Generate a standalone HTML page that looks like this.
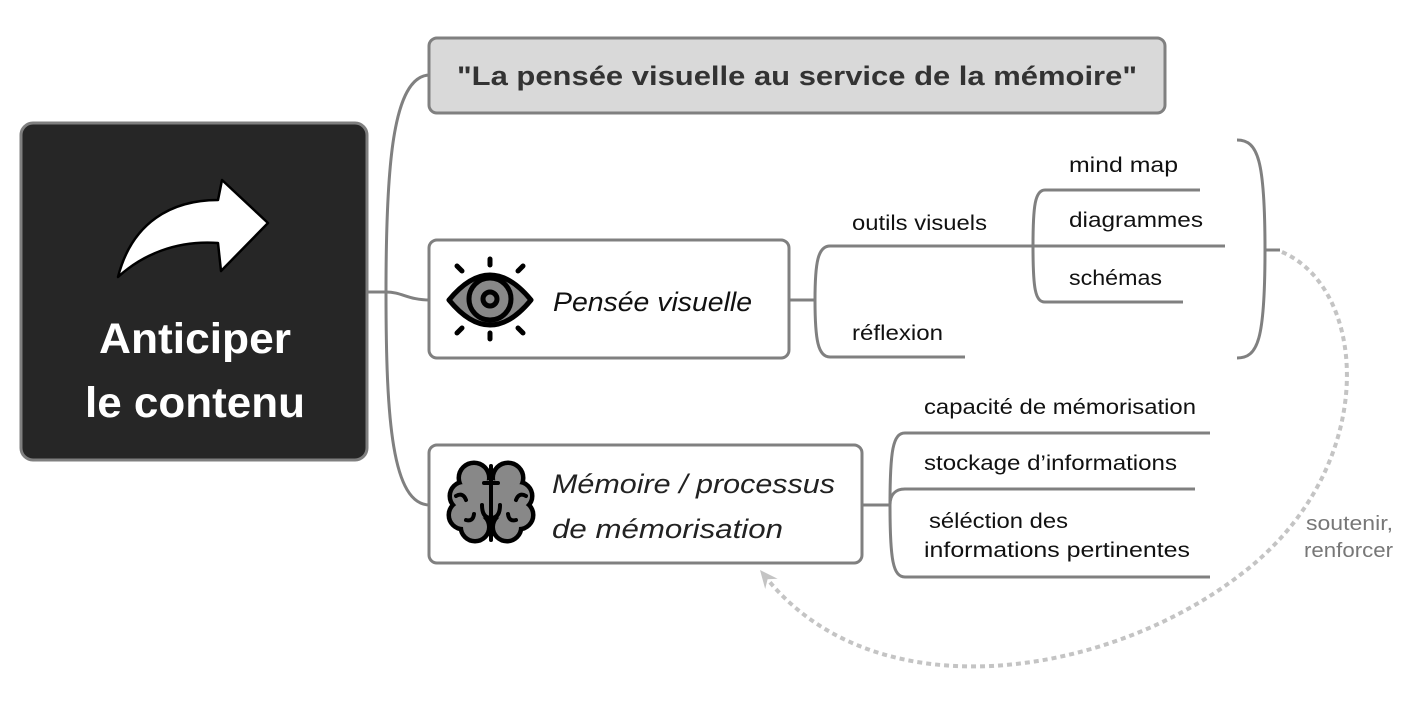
<!DOCTYPE html>
<html><head><meta charset="utf-8"><style>
html,body{margin:0;padding:0;background:#fff;}
svg{display:block;}
text{font-family:"Liberation Sans",sans-serif;}
</style></head><body>
<svg width="1416" height="706" viewBox="0 0 1416 706" xmlns="http://www.w3.org/2000/svg">
<rect width="1416" height="706" fill="#fff"/>
<!-- connectors -->
<g fill="none" stroke="#808080" stroke-width="3" stroke-linecap="butt">
  <path d="M367,292 L386,292"/>
  <path d="M386,292 C386,170 392,75 430,75"/>
  <path d="M386,292 C386,420 392,505 430,505"/>
  <path d="M386,292 C402,292 408,300 430,300"/>
  <path d="M789,300 L815,300"/>
  <path d="M830,246 C818,246 815,262 815,300 C815,340 818,357 830,357"/>
  <path d="M830,246 L1225,246"/>
  <path d="M830,357 L965,357"/>
  <path d="M1045,190 C1035,190 1033,206 1033,246 C1033,288 1035,302 1045,302"/>
  <path d="M1045,190 L1200,190"/>
  <path d="M1045,302 L1183,302"/>
  <path d="M1237,140 C1258,140 1265,160 1265,250 C1265,340 1258,358 1237,358"/>
  <path d="M1265,250 L1280,250"/>
  <path d="M862,505 L890,505"/>
  <path d="M905,433 C893,433 890,450 890,505 C890,560 893,577 905,577"/>
  <path d="M890,505 C890,495 895,489 905,489 L1195,489"/>
  <path d="M905,433 L1210,433"/>
  <path d="M905,577 L1210,577"/>
</g>
<!-- dashed relationship -->
<path d="M1282,252 C1370,290 1380,470 1240,575 C1110,675 880,715 768,580" fill="none" stroke="#c4c4c4" stroke-width="4" stroke-dasharray="5 4"/>
<polygon points="760,570 777.6,578.8 767.6,579.3 765.2,589" fill="#c4c4c4"/>

<!-- central box -->
<rect x="21" y="123" width="346" height="337" rx="12" ry="12" fill="#262626" stroke="#7f7f7f" stroke-width="3"/>
<path d="M118,277 C132,222 172,200 218,200 L222,180 L268,223 L221,271 L218,243 C176,240 142,255 118,277 Z" fill="#fff" stroke="#000" stroke-width="2.5" stroke-linejoin="round"/>
<text x="195" y="353" fill="#fff" font-size="43" font-weight="bold" text-anchor="middle" textLength="192" lengthAdjust="spacingAndGlyphs">Anticiper</text>
<text x="195" y="417" fill="#fff" font-size="43" font-weight="bold" text-anchor="middle" textLength="220" lengthAdjust="spacingAndGlyphs">le contenu</text>

<!-- title box -->
<rect x="429" y="38" width="736" height="75" rx="8" ry="8" fill="#d9d9d9" stroke="#808080" stroke-width="3"/>
<text x="457" y="85" fill="#333" font-size="27" font-weight="bold" textLength="680" lengthAdjust="spacingAndGlyphs">"La pensée visuelle au service de la mémoire"</text>

<!-- pensee visuelle box -->
<rect x="429" y="240" width="360" height="118" rx="8" ry="8" fill="#fff" stroke="#808080" stroke-width="3"/>
<g stroke="#000" stroke-width="5" stroke-linecap="round" fill="none">
  <line x1="490" y1="259" x2="490" y2="265"/>
  <line x1="490" y1="333" x2="490" y2="339"/>
  <line x1="457" y1="266" x2="462" y2="271"/>
  <line x1="523" y1="266" x2="518" y2="271"/>
  <line x1="457" y1="333" x2="462" y2="328"/>
  <line x1="523" y1="333" x2="518" y2="328"/>
</g>
<path d="M449,300 Q490,250 531,300 Q490,350 449,300 Z" fill="#888" stroke="#000" stroke-width="5" stroke-linejoin="round"/>
<circle cx="490" cy="299" r="21" fill="#888" stroke="#000" stroke-width="5"/>
<circle cx="490" cy="299" r="7" fill="#888" stroke="#000" stroke-width="5"/>
<text x="553" y="311" fill="#111" font-size="27" font-style="italic" textLength="199" lengthAdjust="spacingAndGlyphs">Pensée visuelle</text>

<!-- memoire box -->
<rect x="429" y="445" width="433" height="118" rx="8" ry="8" fill="#fff" stroke="#808080" stroke-width="3"/>
<g stroke="#000" stroke-width="9">
  <circle cx="474" cy="478" r="13"/><circle cx="464" cy="496" r="12"/><circle cx="463" cy="515" r="12"/><circle cx="475" cy="527" r="12"/><circle cx="480" cy="503" r="15"/>
  <circle cx="508" cy="478" r="13"/><circle cx="518" cy="496" r="12"/><circle cx="519" cy="515" r="12"/><circle cx="507" cy="527" r="12"/><circle cx="502" cy="503" r="15"/>
  <circle cx="491" cy="498" r="18"/>
</g>
<g fill="#888">
  <circle cx="474" cy="478" r="13"/><circle cx="464" cy="496" r="12"/><circle cx="463" cy="515" r="12"/><circle cx="475" cy="527" r="12"/><circle cx="480" cy="503" r="15"/>
  <circle cx="508" cy="478" r="13"/><circle cx="518" cy="496" r="12"/><circle cx="519" cy="515" r="12"/><circle cx="507" cy="527" r="12"/><circle cx="502" cy="503" r="15"/>
  <circle cx="491" cy="498" r="18"/>
</g>
<g stroke="#000" stroke-width="4" fill="none" stroke-linecap="round">
  <line x1="491" y1="466" x2="491" y2="540"/>
  <line x1="484" y1="483" x2="498" y2="483"/>
  <path d="M482,505 Q482,518 491,518 Q500,518 500,505"/>
  <path d="M456,496 Q463,492 466,500"/>
  <path d="M526,496 Q519,492 516,500"/>
  <path d="M466,520 Q473,522 474,514"/>
  <path d="M516,520 Q509,522 508,514"/>
</g>
<text x="552" y="493" fill="#222" font-size="27" font-style="italic" textLength="283" lengthAdjust="spacingAndGlyphs">Mémoire / processus</text>
<text x="552" y="538" fill="#222" font-size="27" font-style="italic" textLength="231" lengthAdjust="spacingAndGlyphs">de mémorisation</text>

<!-- subtopics -->
<g fill="#111" font-size="21">
  <text x="852" y="230" textLength="135" lengthAdjust="spacingAndGlyphs">outils visuels</text>
  <text x="852" y="340" textLength="91" lengthAdjust="spacingAndGlyphs">réflexion</text>
  <text x="1069" y="172" textLength="109" lengthAdjust="spacingAndGlyphs">mind map</text>
  <text x="1069" y="227" textLength="134" lengthAdjust="spacingAndGlyphs">diagrammes</text>
  <text x="1069" y="285" textLength="93" lengthAdjust="spacingAndGlyphs">schémas</text>
  <text x="924" y="414" textLength="272" lengthAdjust="spacingAndGlyphs">capacité de mémorisation</text>
  <text x="924" y="470" textLength="253" lengthAdjust="spacingAndGlyphs">stockage d’informations</text>
  <text x="929" y="528" textLength="139" lengthAdjust="spacingAndGlyphs">séléction des</text>
  <text x="924" y="557" textLength="266" lengthAdjust="spacingAndGlyphs">informations pertinentes</text>
</g>
<g fill="#777" font-size="20">
  <text x="1306" y="530" textLength="87" lengthAdjust="spacingAndGlyphs">soutenir,</text>
  <text x="1304" y="557" textLength="89" lengthAdjust="spacingAndGlyphs">renforcer</text>
</g>
</svg>
</body></html>
